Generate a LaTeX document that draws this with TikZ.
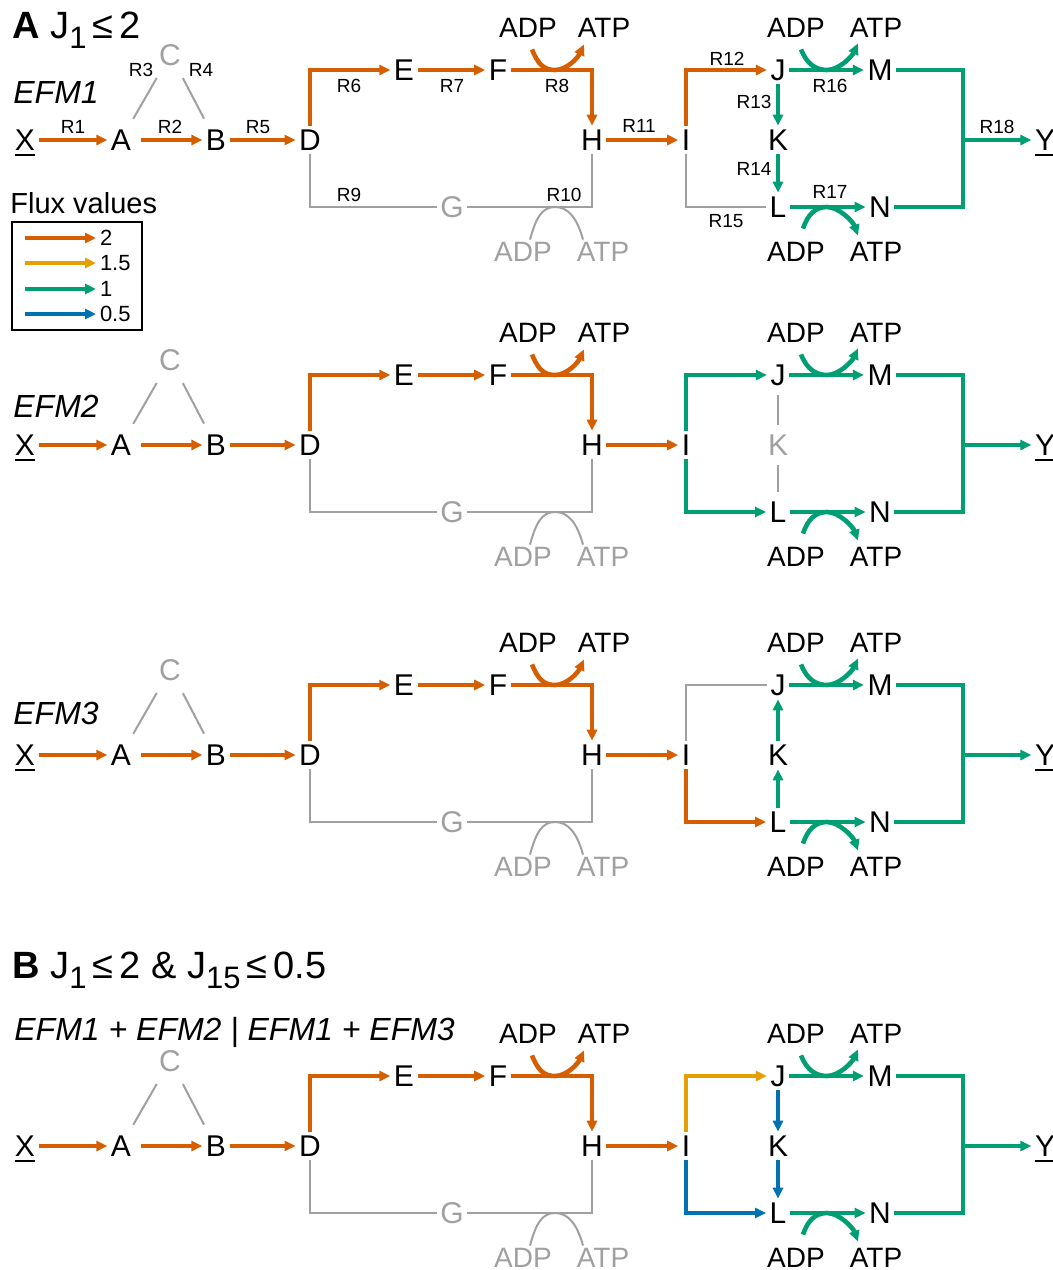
\documentclass[tikz,border=0pt]{standalone}
\usepackage{fontspec}
\setmainfont{Liberation Sans}
\usepackage{xcolor}
\usepackage{tikz}
\usetikzlibrary{arrows.meta, calc}

\definecolor{vermil}{RGB}{213,94,0}
\definecolor{amber}{RGB}{230,159,0}
\definecolor{bgreen}{RGB}{0,158,115}
\definecolor{bblue}{RGB}{0,114,178}
\definecolor{lgray}{RGB}{160,160,160}

\newcommand{\ulmet}[1]{\setbox0\hbox{#1}\rlap{\rule[-2.4pt]{\wd0}{0.9pt}}\box0}
\newcommand{\jsub}[1]{\raisebox{-5pt}{\fontsize{15.5}{15.5}\selectfont #1}}
\newcommand{\leqsp}{\hspace{3pt}≤\hspace{3pt}}

\begin{document}
\begin{tikzpicture}[
    x=0.5pt, y=-0.5pt,
    >={Triangle[length=5.5pt, width=5pt]},
    met/.style={inner sep=0pt, outer sep=1.8pt, font=\fontsize{15}{15}\selectfont, text height=10.7pt, text depth=0pt},
    cof/.style={inner sep=0pt, font=\fontsize{14}{14}\selectfont, text height=10pt, text depth=0pt},
    rlab/.style={inner sep=0pt, font=\fontsize{9.5}{9.5}\selectfont},
    efm/.style={anchor=base west, inner sep=0pt, font=\fontsize{16}{16}\selectfont\itshape},
    ttl/.style={anchor=base west, inner sep=0pt, font=\fontsize{19}{19}\selectfont},
    flux/.style={->, line width=2.3pt},
    fo/.style={flux, draw=vermil},
    fy/.style={flux, draw=amber},
    fg/.style={flux, draw=bgreen},
    fb/.style={flux, draw=bblue},
    gu/.style={fg, <-},
    gl/.style={line width=1pt, draw=lgray},
    glk/.style={gl, shorten <=3pt, shorten >=3pt},
  ]
  \useasboundingbox (0,0) rectangle (1053,1270);

  % Panels: EFM1, EFM2, EFM3, B
  \foreach \p/\oy/\sij/\sil/\sjk/\kc in {1/0/fo/gl/fg/black, 2/305/fg/fg/glk/lgray, 3/615/gl/fo/gu/black, 4/1006/fy/fb/fb/black} {
    \begin{scope}[shift={(0,\oy)}]
      % Metabolites
      \node[met] (X\p) at (25,140) {\ulmet{X}};
      \node[met] (A\p) at (121,140) {A};
      \node[met] (B\p) at (216,140) {B};
      \node[met, text=lgray] (C\p) at (170,55) {C};
      \node[met] (D\p) at (310,140) {D};
      \node[met] (E\p) at (404,70) {E};
      \node[met] (F\p) at (498,70) {F};
      \node[met, text=lgray] (G\p) at (452,207) {G};
      \node[met] (H\p) at (592,140) {H};
      \node[met] (I\p) at (686,140) {I};
      \node[met] (J\p) at (778,70) {J};
      \node[met, text=\kc] (K\p) at (778,140) {K};
      \node[met] (L\p) at (778,207) {L};
      \node[met] (M\p) at (880,70) {M};
      \node[met] (N\p) at (880,207) {N};
      \node[met] (Y\p) at (1045,140) {\ulmet{Y}};
      \coordinate (jn\p) at (963,140);

      % Cofactors
      \node[cof] (adpa\p) at (528,27) {ADP};
      \node[cof] (atpa\p) at (604,27) {ATP};
      \node[cof, text=lgray] (adpb\p) at (523,251) {ADP};
      \node[cof, text=lgray] (atpb\p) at (603,251) {ATP};
      \node[cof] (adpc\p) at (796,27) {ADP};
      \node[cof] (atpc\p) at (876,27) {ATP};
      \node[cof] (adpd\p) at (796,251) {ADP};
      \node[cof] (atpd\p) at (876,251) {ATP};
      \coordinate (r8\p) at (555,70);
      \coordinate (r10\p) at (555,207);
      \coordinate (r16\p) at (827,70);
      \coordinate (r17\p) at (827,207);

      % Reactions
      \draw[fo] (X\p) -- (A\p);
      \draw[fo, shorten <=3pt] (A\p) -- (B\p);
      \draw[gl, shorten <=4pt, shorten >=5pt] (A\p.60) -- (C\p.240);
      \draw[gl, shorten <=5pt, shorten >=4pt] (C\p.300) -- (B\p.120);
      \draw[fo] (B\p) -- (D\p);
      \draw[fo] (D\p) |- (E\p);
      \draw[fo] (E\p) -- (F\p);
      \draw[fo] (F\p) -| (H\p);
      \draw[gl] (D\p) |- (G\p);
      \draw[gl] (G\p) -| (H\p);
      \draw[fo] (H\p) -- (I\p);
      \draw[\sij] (I\p) |- (J\p);
      \draw[\sil] (I\p) |- (L\p);
      \draw[\sjk] (J\p) -- (K\p);
      \draw[\sjk] (K\p) -- (L\p);
      \draw[fg] (J\p) -- (M\p);
      \draw[fg] (L\p) -- (N\p);
      \draw[fg, -] (M\p) -| (jn\p);
      \draw[fg, -] (N\p) -| (jn\p);
      \draw[fg] (jn\p) -- (Y\p);

      % ADP -> ATP couplings
      \draw[fo] ([shift={(4,12)}]adpa\p.south) .. controls +(6,15) and +(-11,0) .. (r8\p)
        .. controls +(12,0) and +(-6,13) .. ([shift={(-20,7)}]atpa\p.south);
      \draw[gl] ([shift={(7,-1)}]adpb\p.north) .. controls +(6,-22) and +(-13,0) .. (r10\p)
        .. controls +(13,0) and +(-6,-22) .. ([shift={(-20,-1)}]atpb\p.north);
      \draw[fg] ([shift={(5,12)}]adpc\p.south) .. controls +(6,15) and +(-11,0) .. (r16\p)
        .. controls +(12,0) and +(-6,13) .. ([shift={(-18,6)}]atpc\p.south);
      \draw[fg] ([shift={(7,-12)}]adpd\p.north) .. controls +(5,-15) and +(-11,0) .. (r17\p)
        .. controls +(12,0) and +(-5,-14) .. ([shift={(-18,-5)}]atpd\p.north);
    \end{scope}
  }

  % Reaction names (EFM1 only)
  \node[rlab] (n1) at (73,127) {R1};
  \node[rlab] (n2) at (170,127) {R2};
  \node[rlab] (n3) at (141,70) {R3};
  \node[rlab] (n4) at (201,70) {R4};
  \node[rlab] (n5) at (258,127) {R5};
  \node[rlab] (n6) at (349,86) {R6};
  \node[rlab] (n7) at (452,86) {R7};
  \node[rlab] (n8) at (557,86) {R8};
  \node[rlab] (n9) at (349,195) {R9};
  \node[rlab] (n10) at (564,195) {R10};
  \node[rlab] (n11) at (639,126) {R11};
  \node[rlab] (n12) at (727,59) {R12};
  \node[rlab] (n13) at (754,102) {R13};
  \node[rlab] (n14) at (754,169) {R14};
  \node[rlab] (n15) at (726,221) {R15};
  \node[rlab] (n16) at (830,86) {R16};
  \node[rlab] (n17) at (830,192) {R17};
  \node[rlab] (n18) at (997,127) {R18};

  % Titles
  \node[ttl] (ttla) at (12,38) {\textbf{A} J\jsub{1}\leqsp 2};
  \node[efm] (efm1) at (13,103) {EFM1};
  \node[efm] (efm2) at (13,417) {EFM2};
  \node[efm] (efm3) at (13,724) {EFM3};
  \node[ttl] (ttlb) at (12,978) {\textbf{B} J\jsub{1}\leqsp 2 \& J\jsub{15}\leqsp 0.5};
  \node[efm] (efmb) at (14,1040) {EFM1 + EFM2 | EFM1 + EFM3};

  % Legend
  \node[anchor=base west, inner sep=0pt, font=\fontsize{14.5}{14.5}\selectfont] (fluxlab) at (10,213) {Flux values};
  \draw[line width=1.3pt] (12,222) rectangle (142,330);
  \foreach \n/\v/\s/\yy in {a/2/fo/238, b/1.5/fy/263, c/1/fg/289, d/0.5/fb/314} {
    \node[anchor=west, inner sep=0pt, outer sep=2pt, font=\fontsize{11}{11}\selectfont] (leg\n) at (96,\yy) {\v};
    \coordinate (legs\n) at (25,\yy);
    \draw[\s] (legs\n) -- (leg\n);
  }
\end{tikzpicture}
\end{document}
